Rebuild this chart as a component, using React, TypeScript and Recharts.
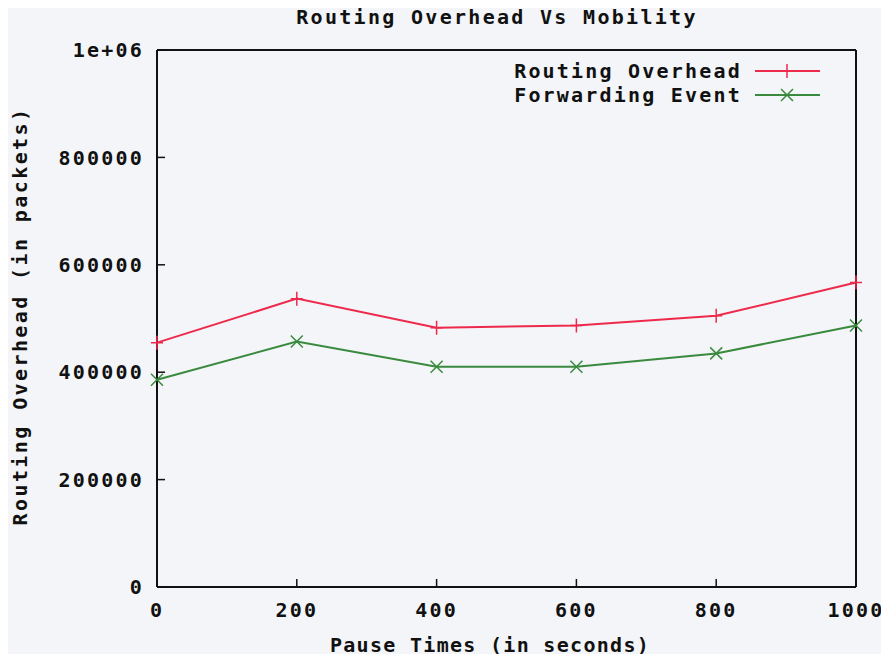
import { Legend, Line, LineChart, XAxis, YAxis } from "recharts";

const pauseTimes = [0, 200, 400, 600, 800, 1000];
const routingOverhead = [455000, 537000, 483000, 487000, 505000, 567000];
const forwardingEvent = [386000, 457000, 410000, 410000, 435000, 487000];
const yTicks = [0, 200000, 400000, 600000, 800000, 1000000];
const seriesNames = ["Routing Overhead", "Forwarding Event"];
const seriesColors = ["#ee2a4c", "#3a8a3e"];

const data = pauseTimes.map((t, i) => ({
    t,
    routing: routingOverhead[i],
    forwarding: forwardingEvent[i],
}));

const font = '"DejaVu Sans Mono", "Liberation Mono", monospace';
const textStyle = { fontFamily: font, fontWeight: "bold" as const, fontSize: 20, letterSpacing: 1.3, color: "#111" };
const tickStyle = { fill: "#111", fontFamily: font, fontWeight: "bold", fontSize: 20, letterSpacing: 2.2 };
const axisLine = { stroke: "#111", strokeWidth: 2 };
const tickLine = { stroke: "#111", strokeWidth: 1.5 };

function fmtY(v: number) {
    return v === 1000000 ? "1e+06" : String(v);
}

function PlusDot(props: any) {
    const { cx, cy, stroke } = props;
    if (cx == null || cy == null) return null;
    return <path d={`M${cx - 6},${cy}H${cx + 6}M${cx},${cy - 7}V${cy + 7}`} stroke={stroke} strokeWidth={1.5} fill="none" />;
}

function CrossDot(props: any) {
    const { cx, cy, stroke } = props;
    if (cx == null || cy == null) return null;
    return <path d={`M${cx - 6},${cy - 6}L${cx + 6},${cy + 6}M${cx - 6},${cy + 6}L${cx + 6},${cy - 6}`} stroke={stroke} strokeWidth={1.5} fill="none" />;
}

function LegendBox() {
    return (
        <div style={{ display: "flex", flexDirection: "column" }}>
            {seriesNames.map((name, i) => (
                <div key={name} style={{ display: "flex", alignItems: "center", justifyContent: "flex-end", height: 24 }}>
                    <span style={{ ...textStyle, letterSpacing: 2.2 }}>{name}</span>
                    <svg width={72} height={24} style={{ marginLeft: 10 }}>
                        <line x1={3} x2={68} y1={12} y2={12} stroke={seriesColors[i]} strokeWidth={2} />
                        {i === 0 ? <PlusDot cx={35} cy={12} stroke={seriesColors[i]} /> : <CrossDot cx={35} cy={12} stroke={seriesColors[i]} />}
                    </svg>
                </div>
            ))}
        </div>
    );
}

export default function App() {
    return (
        <div style={{ margin: -8, width: 889, height: 662, background: "#f3f5f9", position: "relative", overflow: "hidden" }}>
            <div style={{ ...textStyle, letterSpacing: 2.3, position: "absolute", left: 497, top: 17, transform: "translate(-50%, -50%)", whiteSpace: "nowrap" }}>
                Routing Overhead Vs Mobility
            </div>
            <div style={{ ...textStyle, position: "absolute", left: 490, top: 645, transform: "translate(-50%, -50%)", whiteSpace: "nowrap" }}>
                Pause Times (in seconds)
            </div>
            <div style={{ ...textStyle, letterSpacing: 2.4, position: "absolute", left: 20, top: 316, transform: "translate(-50%, -50%) rotate(-90deg)", whiteSpace: "nowrap" }}>
                Routing Overhead (in packets)
            </div>
            <LineChart width={889} height={662} data={data} margin={{ top: 40, right: 23, left: 0, bottom: 0 }}>
                <XAxis dataKey="t" type="number" domain={[0, 1000]} ticks={pauseTimes} height={75}
                    axisLine={axisLine} tickLine={tickLine} tickSize={-8} tickMargin={24} tick={tickStyle} />
                <XAxis xAxisId="top" dataKey="t" type="number" orientation="top" domain={[0, 1000]} ticks={pauseTimes} height={10}
                    axisLine={axisLine} tickLine={tickLine} tickSize={-8} tick={false} />
                <YAxis type="number" domain={[0, 1000000]} ticks={yTicks} width={157} tickFormatter={fmtY}
                    axisLine={axisLine} tickLine={tickLine} tickSize={-8} tickMargin={21} tick={tickStyle} />
                <YAxis yAxisId="right" type="number" orientation="right" domain={[0, 1000000]} ticks={yTicks} width={10}
                    axisLine={axisLine} tickLine={tickLine} tickSize={-8} tick={false} />
                <Legend content={LegendBox} layout="horizontal" verticalAlign="middle" align="center"
                    wrapperStyle={{ top: 59, left: 400, width: 424, height: 48 }} />
                <Line dataKey="routing" name={seriesNames[0]} stroke={seriesColors[0]} strokeWidth={2}
                    dot={<PlusDot />} activeDot={false} isAnimationActive={false} />
                <Line dataKey="forwarding" name={seriesNames[1]} stroke={seriesColors[1]} strokeWidth={2}
                    dot={<CrossDot />} activeDot={false} isAnimationActive={false} />
            </LineChart>
        </div>
    );
}
